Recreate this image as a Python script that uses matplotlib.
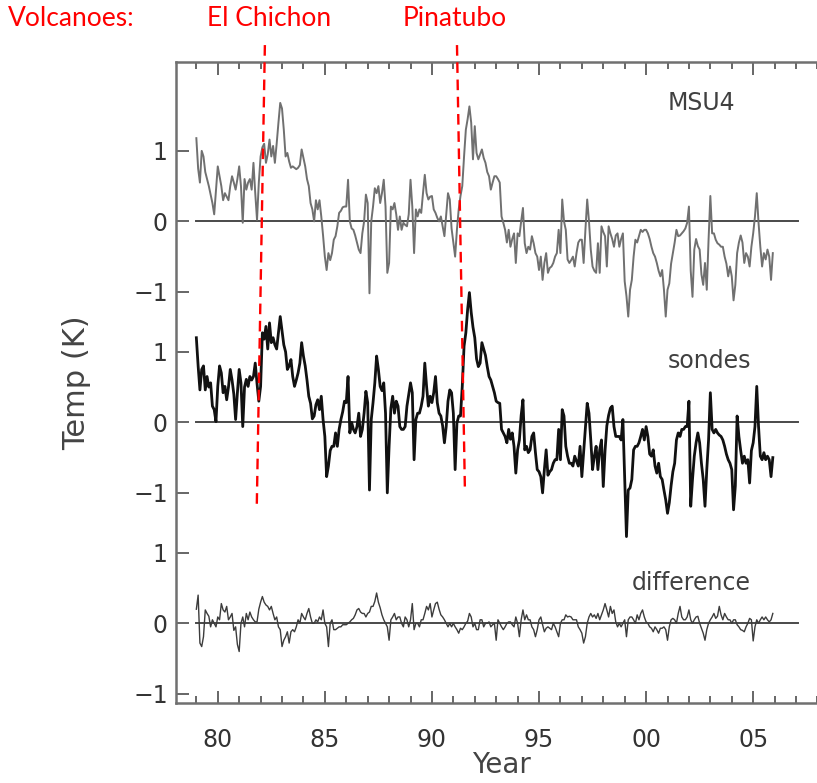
import numpy as np
import matplotlib.pyplot as plt
from matplotlib.ticker import FixedLocator, MultipleLocator

# Monthly temperature anomalies (K), Jan 1979 - Dec 2005, one row per year
msu4 = [
    1.18, 0.75, 0.55, 1.0, 0.92, 0.7, 0.6, 0.5, 0.38, 0.26, 0.1, 0.45,
    0.78, 0.64, 0.5, 0.3, 0.4, 0.35, 0.3, 0.5, 0.64, 0.55, 0.45, 0.6,
    0.78, 0.5, -0.02, 0.6, 0.45, 0.55, 0.6, 0.45, 0.83, 0.4, 0.02, 0.55,
    0.92, 1.05, 1.1, 0.83, 0.95, 1.16, 0.92, 1.07, 0.83, 1.1, 1.4, 1.68,
    1.6, 1.3, 0.92, 0.97, 0.85, 0.76, 0.78, 0.76, 0.74, 0.76, 0.8, 1.02,
    0.9, 0.78, 0.6, 0.5, 0.26, 0.17, 0.0, 0.3, 0.17, 0.3, 0.07, -0.2,
    -0.5, -0.69, -0.45, -0.55, -0.45, -0.26, -0.21, -0.07, 0.12, 0.15, 0.2, 0.21,
    0.21, 0.59, 0.0, -0.1, -0.12, -0.2, -0.3, -0.4, -0.45, -0.17, 0.0, 0.38,
    0.26, -1.02, 0.0, 0.21, 0.47, 0.4, 0.5, 0.26, 0.4, 0.59, 0.21, -0.73,
    -0.59, 0.21, 0.17, 0.26, 0.1, -0.12, 0.07, -0.12, -0.02, -0.05, -0.07, 0.1,
    0.59, 0.21, -0.45, 0.17, 0.07, 0.17, 0.12, 0.4, 0.66, 0.4, 0.31, 0.35,
    0.36, 0.17, 0.12, 0.05, 0.0, 0.07, -0.07, -0.21, 0.1, 0.4, 0.31, -0.1,
    -0.3, -0.5, -0.12, 0.17, 0.36, 0.5, 0.92, 1.3, 1.45, 1.63, 1.4, 0.88,
    1.35, 0.97, 0.88, 0.95, 1.02, 0.9, 0.83, 0.7, 0.64, 0.45, 0.55, 0.64,
    0.64, 0.6, 0.55, 0.07, -0.02, -0.12, -0.3, -0.12, -0.36, -0.25, -0.17, -0.59,
    -0.17, -0.21, 0.0, 0.19, -0.31, -0.45, -0.36, -0.4, -0.21, -0.31, -0.45, -0.5,
    -0.69, -0.5, -0.83, -0.59, -0.45, -0.73, -0.66, -0.64, -0.59, -0.5, -0.45, -0.12,
    -0.45, 0.31, 0.0, -0.12, -0.54, -0.59, -0.55, -0.5, -0.64, -0.45, -0.3, -0.26,
    -0.26, -0.59, -0.12, 0.31, 0.0, -0.4, -0.64, -0.7, -0.73, -0.31, -0.73, -0.07,
    -0.15, -0.21, -0.64, -0.07, -0.17, -0.25, -0.36, -0.2, -0.17, -0.36, -0.25, -0.17,
    -0.85, -1.06, -1.35, -0.97, -0.83, -0.5, -0.26, -0.3, -0.21, -0.12, -0.15, -0.12,
    -0.12, -0.17, -0.25, -0.36, -0.45, -0.5, -0.59, -0.7, -0.78, -0.69, -0.97, -1.35,
    -0.97, -0.88, -0.6, -0.45, -0.3, -0.12, -0.21, -0.2, -0.17, -0.14, -0.1, -0.02,
    0.21, -0.7, -1.07, -0.4, -0.25, -0.35, -0.4, -0.75, -0.9, -0.59, -0.97, -0.26,
    0.36, -0.17, -0.17, -0.26, -0.31, -0.33, -0.36, -0.36, -0.5, -0.6, -0.78, -0.64,
    -0.78, -1.12, -0.9, -0.45, -0.3, -0.2, -0.3, -0.59, -0.45, -0.5, -0.64, -0.36,
    -0.17, 0.07, 0.4, -0.02, -0.36, -0.64, -0.45, -0.54, -0.4, -0.5, -0.83, -0.45,
]

sondes = [
    1.2, 0.8, 0.46, 0.75, 0.8, 0.46, 0.65, 0.5, 0.56, 0.23, 0.18, 0.01,
    0.51, 0.8, 0.7, 0.42, 0.51, 0.32, 0.5, 0.75, 0.6, 0.4, 0.04, 0.42,
    0.75, 0.56, -0.06, 0.5, 0.61, 0.51, 0.65, 0.6, 0.65, 0.84, 0.55, 0.3,
    0.51, 1.27, 1.18, 1.36, 1.04, 1.41, 1.13, 1.2, 1.1, 1.04, 1.27, 1.5,
    1.3, 1.1, 1.0, 0.75, 0.8, 0.89, 0.65, 0.51, 0.6, 0.7, 0.84, 1.13,
    0.94, 0.8, 0.6, 0.37, 0.27, 0.05, 0.09, 0.25, 0.32, 0.18, 0.37, 0.04,
    -0.2, -0.77, -0.62, -0.4, -0.34, -0.34, -0.15, -0.34, -0.1, 0.04, 0.15, 0.3,
    0.28, 0.65, -0.15, 0.0, -0.1, -0.15, -0.06, 0.13, -0.2, -0.1, 0.13, 0.44,
    0.28, -0.96, 0.04, 0.28, 0.56, 0.94, 0.75, 0.51, 0.45, 0.56, 0.13, -1.0,
    -0.34, 0.2, 0.37, 0.13, 0.3, 0.23, -0.06, -0.1, -0.1, -0.06, 0.23, 0.4,
    0.56, 0.42, -0.53, 0.04, 0.13, 0.13, 0.23, 0.37, 0.84, 0.51, 0.23, 0.37,
    0.28, 0.42, 0.65, 0.28, 0.13, 0.09, -0.05, -0.29, -0.06, 0.3, 0.46, 0.42,
    0.13, -0.67, -0.01, 0.09, 0.09, 0.51, 1.08, 1.27, 1.6, 1.84, 1.56, 1.35,
    1.2, 0.9, 0.79, 0.84, 1.13, 1.04, 0.95, 0.79, 0.65, 0.6, 0.51, 0.42,
    0.3, 0.28, 0.27, -0.1, -0.15, -0.2, -0.29, -0.1, -0.24, -0.15, -0.34, -0.72,
    -0.39, -0.25, 0.1, 0.32, -0.39, -0.34, -0.43, -0.39, -0.2, -0.15, -0.43, -0.67,
    -0.7, -0.77, -1.0, -0.67, -0.39, -0.75, -0.7, -0.67, -0.58, -0.53, -0.53, -0.1,
    -0.53, 0.18, 0.09, -0.34, -0.48, -0.58, -0.58, -0.62, -0.48, -0.55, -0.62, -0.34,
    -0.77, -0.43, -0.1, 0.27, 0.13, -0.25, -0.67, -0.48, -0.34, -0.67, -0.39, -0.25,
    -0.91, -0.4, -0.05, 0.1, 0.2, 0.23, -0.06, -0.2, -0.2, -0.2, -0.25, 0.04,
    -0.81, -1.62, -0.96, -0.93, -0.81, -0.39, -0.34, -0.34, -0.29, -0.2, -0.1, -0.25,
    -0.06, -0.2, -0.45, -0.48, -0.39, -0.62, -0.72, -0.58, -0.77, -0.81, -0.96, -1.1,
    -1.29, -1.14, -0.9, -0.7, -0.58, -0.25, -0.15, -0.2, -0.1, -0.1, -0.06, -0.06,
    0.3, -1.19, -0.81, -0.48, -0.29, -0.15, -0.29, -0.58, -0.81, -1.19, -0.67, -0.25,
    0.42, -0.1, -0.15, -0.1, -0.15, -0.18, -0.2, -0.25, -0.34, -0.45, -0.53, -0.58,
    -0.67, -1.24, -0.9, 0.09, -0.2, -0.4, -0.58, -0.48, -0.58, -0.53, -0.86, -0.4,
    -0.29, -0.06, 0.51, -0.06, -0.48, -0.53, -0.43, -0.53, -0.48, -0.53, -0.77, -0.5,
]

difference = [
    0.2, 0.4, -0.28, -0.33, -0.19, 0.19, 0.14, 0.1, -0.05, 0.05, 0.0, -0.05,
    0.09, 0.05, 0.28, 0.19, 0.16, 0.24, 0.05, 0.09, 0.14, -0.1, -0.05, -0.3,
    -0.4, 0.0, 0.09, -0.05, 0.14, 0.05, 0.16, 0.09, 0.05, 0.02, 0.02, 0.2,
    0.3, 0.38, 0.3, 0.26, 0.24, 0.19, 0.24, 0.14, 0.05, 0.09, -0.05, -0.09,
    -0.33, -0.24, -0.19, -0.12, -0.28, -0.12, -0.09, -0.12, -0.05, 0.05, 0.0, 0.14,
    0.09, 0.05, 0.14, 0.21, 0.09, 0.0, 0.0, 0.05, 0.02, 0.09, 0.05, 0.19,
    0.0, -0.05, -0.33, 0.0, 0.05, -0.09, -0.09, -0.07, -0.05, -0.05, -0.02, -0.02,
    -0.02, 0.0, 0.02, 0.05, 0.07, 0.12, 0.19, 0.21, 0.16, 0.14, 0.14, 0.09,
    0.14, 0.16, 0.24, 0.24, 0.31, 0.43, 0.3, 0.22, 0.12, 0.05, 0.0, -0.05,
    -0.24, 0.05, 0.09, 0.14, 0.05, 0.09, 0.09, 0.0, -0.05, 0.09, 0.05, -0.05,
    0.05, 0.28, -0.09, 0.0, 0.0, -0.05, 0.05, 0.05, 0.14, 0.24, 0.19, 0.28,
    0.09, 0.19, 0.28, 0.3, 0.2, 0.12, 0.09, 0.05, 0.0, -0.05, 0.0, -0.05,
    0.0, -0.05, -0.09, -0.14, -0.07, -0.09, -0.05, 0.0, 0.03, 0.14, 0.09, -0.05,
    0.0, -0.09, -0.09, 0.05, 0.05, -0.05, 0.0, 0.0, 0.02, -0.05, -0.02, 0.0,
    -0.24, 0.05, 0.0, -0.05, -0.09, -0.05, 0.0, 0.02, 0.02, -0.02, -0.05, 0.09,
    0.0, -0.19, 0.05, 0.19, 0.05, 0.12, 0.05, 0.05, -0.05, -0.09, -0.19, -0.09,
    0.05, 0.09, -0.02, -0.12, -0.07, -0.05, -0.07, -0.09, 0.0, -0.05, -0.12, -0.19,
    0.0, 0.05, 0.05, 0.12, 0.09, 0.1, 0.09, 0.05, 0.05, 0.05, -0.05, -0.09,
    -0.14, -0.28, -0.19, 0.0, 0.09, 0.14, 0.09, 0.12, 0.07, 0.14, 0.05, 0.12,
    0.19, 0.28, 0.19, 0.09, 0.24, 0.14, 0.19, 0.02, -0.05, 0.0, -0.05, 0.0,
    0.05, -0.19, 0.05, 0.09, 0.09, 0.05, 0.0, 0.12, 0.05, 0.14, 0.19, 0.09,
    0.02, 0.0, -0.05, -0.07, -0.12, -0.05, -0.09, -0.14, -0.07, -0.07, -0.05, -0.09,
    -0.24, -0.05, 0.05, 0.07, 0.05, 0.0, 0.14, 0.24, 0.09, 0.05, 0.05, 0.09,
    0.19, 0.05, 0.0, 0.05, 0.09, 0.1, 0.0, -0.07, -0.14, -0.24, -0.09, 0.0,
    0.05, 0.09, 0.14, 0.07, 0.1, 0.24, 0.12, 0.05, 0.14, 0.09, 0.05, 0.05,
    0.0, 0.05, 0.05, -0.02, -0.05, -0.09, -0.1, -0.12, -0.05, 0.0, 0.07, 0.05,
    -0.25, -0.05, 0.05, 0.0, 0.05, 0.09, 0.05, 0.09, 0.05, 0.02, 0.05, 0.14,
]

series_names = ["MSU4", "sondes", "difference"]
start_year = 1979
year_ticks = [1980, 1985, 1990, 1995, 2000, 2005]
year_labels = ["80", "85", "90", "95", "00", "05"]
panel_ticks = [-1, 0, 1]
volcano_names = ["El Chichon", "Pinatubo"]
volcano_x_top = [1982.2, 1991.17]
volcano_x_bottom = [1981.82, 1991.54]
volcano_y_bottom = [1.63, 1.89]

# vertical spacing between the stacked panels, in K
offset_step = 2.85
offsets = [2 * offset_step, offset_step, 0.0]

gray = "#5a5a5a"
plt.rcParams["font.family"] = "DejaVu Sans"

fig = plt.figure(figsize=(8.17, 7.83), dpi=100)
ax = fig.add_axes([176 / 817, 80 / 783, 650 / 817, 641 / 783])

t = start_year + np.arange(len(msu4)) / 12.0
styles = [dict(color="#707070", lw=1.4),
          dict(color="#111111", lw=2.0),
          dict(color="#3c3c3c", lw=1.0)]
label_xy = [(2001.0, 7.38), (2001.0, 3.72), (1999.35, 0.57)]

for vals, off, st, name, (lx, ly) in zip([msu4, sondes, difference], offsets,
                                         styles, series_names, label_xy):
    ax.plot([start_year, 2007.1], [off, off], color="#4a4a4a", lw=1.4, zorder=1)
    ax.plot(t, np.asarray(vals) + off, zorder=2, **st)
    ax.text(lx, ly, name, fontsize=17, color="#404040", va="center", ha="left")

ax.set_xlim(1978.05, 2008.4)
ax.set_ylim(-1.13, 7.96)

ytick_pos = [off + v for off in offsets for v in panel_ticks]
ytick_lab = [("\u2212" if v < 0 else "") + str(abs(v)) for off in offsets for v in panel_ticks]
ax.yaxis.set_major_locator(FixedLocator(ytick_pos))
ax.set_yticklabels(ytick_lab)
ax.xaxis.set_major_locator(FixedLocator(year_ticks))
ax.xaxis.set_minor_locator(MultipleLocator(1))
ax.set_xticklabels(year_labels)

ax.tick_params(axis="both", which="both", direction="in", colors=gray,
               labelcolor="#333333", labelsize=17, width=1.3, top=True)
ax.tick_params(axis="x", which="major", length=9, pad=18)
ax.tick_params(axis="x", which="minor", length=5)
ax.tick_params(axis="y", which="major", length=9, pad=6)

for side in ["left", "top", "bottom"]:
    ax.spines[side].set_color("#707070")
    ax.spines[side].set_linewidth(1.8)
ax.spines["right"].set_visible(False)

ax.set_xlabel("Year", fontsize=20, color="#444444", labelpad=-1)
ax.set_ylabel("Temp (K)", fontsize=22, color="#444444", labelpad=30)

# volcanic eruption markers
for name, xt, xb, yb in zip(volcano_names, volcano_x_top, volcano_x_bottom, volcano_y_bottom):
    ax.plot([xt, xb], [8.2, yb], color="red", lw=1.7, ls=(0, (4.5, 2.8)),
            clip_on=False, zorder=5)

fig.text(8 / 817, 1 - 18 / 783, "Volcanoes:", color="red", fontsize=19,
         family="Lato", va="center", ha="left")
for name, x in zip(volcano_names, [207, 403]):
    fig.text(x / 817, 1 - 18 / 783, name, color="red", fontsize=19,
             family="Lato", va="center", ha="left")

fig.savefig("out.png", dpi=100)
